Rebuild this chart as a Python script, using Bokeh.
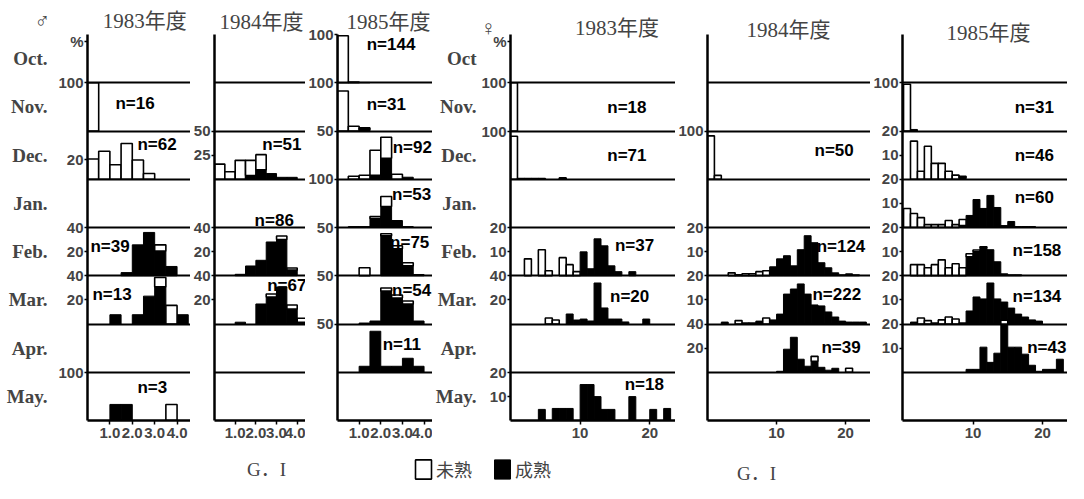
from bokeh.plotting import figure
from bokeh.models import (Range1d, LinearAxis, FixedTicker, Label, Legend, LegendItem,
                          ColumnDataSource)
from bokeh.layouts import row, column
from bokeh.embed import file_html
from bokeh.resources import INLINE
from bokeh.core.properties import value

# ---------------- data ----------------
MONTHS = ["Oct", "Nov", "Dec", "Jan", "Feb", "Mar", "Apr", "May"]
MONTH_LABELS_M = ["Oct.", "Nov.", "Dec.", "Jan.", "Feb.", "Mar.", "Apr.", "May."]
MONTH_LABELS_F = ["Oct", "Nov.", "Dec.", "Jan.", "Feb.", "Mar.", "Apr.", "May."]
YEARS = ["1983年度", "1984年度", "1985年度"]
SEX = ["♂", "♀"]
PCT = "%"
MALE_XTICKS = [1, 2, 3, 4]
FEMALE_XTICKS = [10, 20]
LEGEND_LABELS = ["未熟", "成熟"]
AXIS_TITLE = "G．I"

# male 1983 (GI bins of 0.5, % mature / % immature)
M83_MONTHS = ["Nov", "Dec", "Feb", "Mar", "May"]
M83_BINS = [[0.0], [0.0, 0.5, 1.0, 1.5, 2.0, 2.5], [1.5, 2.0, 2.5, 3.0, 3.5],
            [1.0, 2.0, 2.5, 3.0, 3.5, 4.0], [1.0, 1.5, 3.5]]
M83_MAT = [[0], [0, 0, 0, 0, 0, 0], [2.6, 25.6, 35.9, 20.5, 7.7],
           [7.7, 7.7, 23.1, 30.8, 0, 7.7], [33.3, 33.3, 0]]
M83_IMM = [[100], [21, 29, 15, 37, 20, 6], [0, 0, 0, 5.1, 0],
           [0, 0, 0, 7.7, 15.4, 0], [0, 0, 33.3]]
M83_FULL = {"Nov": 100, "Dec": 50, "Feb": 40, "Mar": 40, "May": 100}
M83_N = {"Nov": 16, "Dec": 62, "Feb": 39, "Mar": 13, "May": 3}
M83_YTICKS = [("Nov", 100), ("Dec", 20), ("Feb", 40), ("Feb", 20), ("Mar", 40), ("Mar", 20), ("May", 100)]

# male 1984
M84_MONTHS = ["Dec", "Feb", "Mar"]
M84_BINS = [[0.0, 0.5, 1.0, 1.5, 2.0, 2.5, 3.0, 3.5], [1.0, 1.5, 2.0, 2.5, 3.0, 3.5],
            [1.0, 2.0, 2.5, 3.0, 3.5, 4.0]]
M84_MAT = [[0, 0, 0, 3.9, 9.8, 5.9, 2.0, 2.0], [1.2, 8.1, 12.8, 28.0, 30.0, 4.7],
           [1.5, 16.6, 22.4, 30.7, 12.4, 1.5]]
M84_IMM = [[15.7, 7.8, 19.6, 15.7, 15.7, 0, 0, 0], [0, 0, 0, 0, 3.0, 1.7],
           [0, 0, 2.5, 0, 3.3, 3.3]]
M84_FULL = {"Dec": 50, "Feb": 40, "Mar": 40}
M84_N = {"Dec": 51, "Feb": 86, "Mar": 67}
M84_YTICKS = [("Dec", 50), ("Dec", 25), ("Feb", 40), ("Feb", 20), ("Mar", 40), ("Mar", 20)]

# male 1985
M85_MONTHS = ["Oct", "Nov", "Dec", "Jan", "Feb", "Mar", "Apr"]
M85_BINS = [[0.0, 0.5, 1.0], [0.0, 0.5, 1.0], [0.5, 1.0, 1.5, 2.0, 2.5, 3.0],
            [0.5, 1.0, 1.5, 2.0, 2.5, 3.0], [1.0, 2.0, 2.5, 3.0, 3.5],
            [1.0, 1.5, 2.0, 2.5, 3.0, 3.5], [1.0, 1.5, 2.0, 2.5, 3.0, 3.5]]
M85_MAT = [[0, 0, 0.7], [0, 0, 3.2], [0, 0, 4.1, 21.8, 0, 2.1],
           [1.9, 1.9, 18.7, 43.5, 14.5, 1.9], [0, 41.4, 28.0, 10.4, 1.3],
           [1.0, 3.1, 34.2, 26.9, 20.7, 3.1], [6.2, 42.5, 6.2, 6.2, 14.5, 6.2]]
M85_IMM = [[97.4, 1.4, 0], [83.0, 10.0, 3.2], [3.1, 4.1, 25.9, 21.8, 5.2, 0],
           [0, 0, 4.1, 20.7, 0, 0], [8.3, 2.1, 3.1, 3.1, 0],
           [0, 0, 3.1, 3.1, 3.1, 0], [0, 0, 0, 0, 0, 0]]
M85_FULL = {"Oct": 100, "Nov": 100, "Dec": 50, "Jan": 100, "Feb": 50, "Mar": 50, "Apr": 50}
M85_N = {"Oct": 144, "Nov": 31, "Dec": 92, "Jan": 53, "Feb": 75, "Mar": 54, "Apr": 11}
M85_YTICKS = [("Oct", 100), ("Nov", 100), ("Dec", 50), ("Jan", 100), ("Feb", 50), ("Mar", 50), ("Apr", 50)]

# female 1983 (GI bins of 1)
F83_MONTHS = ["Nov", "Dec", "Feb", "Mar", "May"]
F83_BINS = [[0], [0, 1, 2, 3, 4, 7],
            [2, 4, 5, 7, 8, 9, 10, 11, 12, 13, 14, 15, 17],
            [5, 6, 8, 9, 10, 11, 12, 13, 14, 15, 16, 19],
            [4, 6, 7, 8, 10, 11, 12, 13, 14, 17, 20, 22]]
F83_MAT = [[0], [0, 0, 0, 0, 0, 0],
           [0, 0, 0, 0, 0, 0, 9.9, 2.9, 15.3, 12.4, 4.1, 1.7, 1.7],
           [0, 0, 8.3, 3.3, 4.1, 2.5, 34.0, 13.3, 4.1, 4.1, 1.7, 4.1],
           [4.6, 5.0, 5.0, 5.0, 14.9, 14.9, 9.9, 4.6, 4.6, 9.9, 4.6, 5.0]]
F83_IMM = [[100], [89, 1.4, 1.4, 1.4, 1.4, 2.8],
           [7.0, 10.8, 2.1, 7.5, 4.6, 1.7, 0, 0, 0, 0, 0, 0, 0],
           [5.0, 3.3, 0, 0, 0, 0, 0, 0, 0, 0, 0, 0],
           [0, 0, 0, 0, 0, 0, 0, 0, 0, 0, 0, 0]]
F83_FULL = {"Nov": 100, "Dec": 100, "Feb": 20, "Mar": 40, "May": 20}
F83_N = {"Nov": 18, "Dec": 71, "Feb": 37, "Mar": 20, "May": 18}
F83_YTICKS = [("Nov", 100), ("Dec", 100), ("Feb", 20), ("Feb", 10), ("Mar", 40), ("Mar", 20),
              ("May", 20), ("May", 10)]

# female 1984
F84_MONTHS = ["Dec", "Feb", "Mar", "Apr"]
F84_BINS = [[0, 1],
            [3, 4, 5, 6, 7, 8, 9, 10, 11, 12, 13, 14, 15, 16, 17, 18, 19, 20, 21],
            [2, 4, 5, 6, 7, 8, 9, 10, 11, 12, 13, 14, 15, 16, 17, 18, 19, 20, 21, 22],
            [10, 11, 12, 13, 14, 15, 16, 17, 18, 20]]
F84_MAT = [[0, 0],
           [0, 0, 0, 0, 0, 0, 3.7, 7.0, 8.3, 4.1, 10.8, 16.6, 13.7, 5.4, 3.3, 1.2, 0.4, 0.8, 0.4],
           [0.8, 0, 0, 0, 1.2, 0, 1.7, 4.1, 12.4, 14.5, 16.6, 12.4, 7.9, 7.5, 5.0, 2.9, 1.2, 0.8, 0.8, 0.8],
           [0.8, 19.1, 29.0, 10.8, 5.0, 9.1, 4.1, 1.7, 3.3, 0]]
F84_IMM = [[90, 8],
           [1.2, 0.4, 0.8, 0.8, 1.7, 2.1, 0, 0, 0, 0, 0, 0, 0, 0, 0, 0, 0, 0, 0],
           [0, 1.4, 0.4, 0.4, 0, 2.5, 0, 0, 0, 0, 0, 0, 0, 0, 0, 0, 0, 0, 0, 0],
           [0, 0, 0, 0, 0, 4.1, 0, 0, 0, 3.3]]
F84_FULL = {"Dec": 100, "Feb": 20, "Mar": 20, "Apr": 40}
F84_N = {"Dec": 50, "Feb": 124, "Mar": 222, "Apr": 39}
F84_YTICKS = [("Dec", 100), ("Feb", 20), ("Feb", 10), ("Mar", 20), ("Mar", 10), ("Apr", 40), ("Apr", 20)]

# female 1985
F85_MONTHS = ["Nov", "Dec", "Jan", "Feb", "Mar", "Apr"]
F85_BINS = [[0, 1],
            [1, 2, 3, 4, 5, 6, 7, 8],
            [0, 1, 2, 3, 4, 5, 6, 7, 8, 9, 10, 11, 12, 13, 14, 15, 16, 17, 18],
            [1, 2, 3, 4, 5, 6, 7, 8, 9, 10, 11, 12, 13, 14, 15, 16],
            [1, 2, 3, 4, 5, 6, 7, 8, 9, 10, 11, 12, 13, 14, 15, 16, 17, 18, 19],
            [9, 10, 11, 12, 13, 14, 15, 16, 17, 18, 19, 20, 21, 22]]
F85_MAT = [[0, 3.2],
           [0, 0, 0, 0, 0, 0, 0, 0.6],
           [0, 0, 0, 0, 0, 0, 0, 0, 0.8, 5.0, 11.6, 7.9, 13.3, 8.3, 0.8, 2.5, 0.4, 0.4, 0.4],
           [0, 0, 0, 0, 0, 0, 0, 0, 7.9, 9.9, 11.6, 10.8, 5.8, 0.8, 0.4, 0.4],
           [0.8, 0, 0, 0, 0, 0, 0, 0, 5.4, 11.2, 10.4, 17.0, 10.4, 9.1, 6.6, 4.1, 2.9, 1.7, 1.2],
           [1.2, 1.2, 10.4, 4.1, 7.9, 19.9, 10.4, 10.4, 7.5, 2.9, 0.4, 1.2, 1.2, 5.4]]
F85_IMM = [[96.8, 0],
           [15.8, 3.3, 13.7, 6.6, 6.6, 3.3, 1.7, 0.6],
           [7.9, 5.8, 4.1, 1.2, 1.2, 1.2, 2.9, 1.2, 2.5, 0, 0, 0, 0, 0, 0, 0, 0, 0, 0],
           [4.6, 4.6, 3.3, 4.6, 6.6, 3.3, 5.0, 3.3, 1.2, 0.8, 0.4, 0, 0, 0, 0, 0],
           [0, 2.5, 1.4, 0.4, 1.7, 2.9, 2.1, 0.4, 0, 0, 0, 0, 0, 0, 0, 0, 0, 0, 0],
           [0, 0, 0, 0, 0, 1.7, 0, 0, 0, 0, 0, 0, 0, 0]]
F85_FULL = {"Nov": 100, "Dec": 20, "Jan": 20, "Feb": 20, "Mar": 20, "Apr": 20}
F85_N = {"Nov": 31, "Dec": 46, "Jan": 60, "Feb": 158, "Mar": 134, "Apr": 43}
F85_YTICKS = [("Nov", 100), ("Dec", 20), ("Dec", 10), ("Jan", 20), ("Jan", 10), ("Feb", 20), ("Feb", 10),
              ("Mar", 20), ("Mar", 10), ("Apr", 20), ("Apr", 10)]

# ---------------- layout / style ----------------
NARROW = "Liberation Sans Narrow, Liberation Sans, sans-serif"
SERIF = "Liberation Serif, DejaVu Sans, Noto Sans CJK JP, serif"
FIG_H = 446
TOP = 34
BOTTOM = 26
NBSP = "\u00a0"

PANELS = [
    dict(data=(M83_MONTHS, M83_BINS, M83_MAT, M83_IMM, M83_FULL, M83_YTICKS, M83_N),
         w=190, L=87, x0=0.0, x1=4.6, bw=0.5, male=True,
         title=SEX[0] + NBSP * 10 + YEARS[0], toff=-53, tstand=3, pct=7.85,
         npos={"Nov": (1.25, 6.58), "Dec": (2.23, 5.73), "Feb": (0.13, 3.6), "Mar": (0.22, 2.62), "May": (2.23, 0.68)}),
    dict(data=(M84_MONTHS, M84_BINS, M84_MAT, M84_IMM, M84_FULL, M84_YTICKS, M84_N),
         w=115, L=20, x0=0.0, x1=4.4, bw=0.5, male=True,
         title=YEARS[1], toff=5, tstand=1, pct=None,
         npos={"Dec": (2.31, 5.73), "Feb": (1.94, 4.14), "Mar": (2.55, 2.79)}),
    dict(data=(M85_MONTHS, M85_BINS, M85_MAT, M85_IMM, M85_FULL, M85_YTICKS, M85_N),
         w=127, L=26, x0=0.0, x1=4.39, bw=0.5, male=True,
         title=YEARS[2], toff=9, tstand=1, pct=None,
         npos={"Oct": (1.35, 7.79), "Nov": (1.35, 6.54), "Dec": (2.55, 5.66), "Jan": (2.52, 4.68),
               "Feb": (2.43, 3.68), "Mar": (2.52, 2.7), "Apr": (2.09, 1.58)}),
    dict(data=(F83_MONTHS, F83_BINS, F83_MAT, F83_IMM, F83_FULL, F83_YTICKS, F83_N),
         w=243, L=77, x0=0.0, x1=23.7, bw=1.0, male=False,
         title=SEX[1] + NBSP * 15 + YEARS[0], toff=-30, tstand=-10, pct=7.85,
         npos={"Nov": (13.9, 6.48), "Dec": (13.9, 5.5), "Feb": (15.0, 3.62), "Mar": (14.3, 2.56), "May": (16.4, 0.75)}),
    dict(data=(F84_MONTHS, F84_BINS, F84_MAT, F84_IMM, F84_FULL, F84_YTICKS, F84_N),
         w=195, L=26, x0=0.0, x1=23.6, bw=1.0, male=False,
         title=YEARS[1], toff=39, tstand=-14, pct=None,
         npos={"Dec": (15.5, 5.6), "Feb": (15.8, 3.6), "Mar": (15.2, 2.62), "Apr": (16.5, 1.52)}),
    dict(data=(F85_MONTHS, F85_BINS, F85_MAT, F85_IMM, F85_FULL, F85_YTICKS, F85_N),
         w=197, L=26, x0=-0.15, x1=23.6, bw=1.0, male=False,
         title=YEARS[2], toff=44, tstand=-20, pct=None,
         npos={"Nov": (16.0, 6.48), "Dec": (16.0, 5.5), "Jan": (16.0, 4.62), "Feb": (15.7, 3.52),
               "Mar": (15.7, 2.56), "Apr": (17.8, 1.52)}),
]


def make_panel(cfg):
    months, bins, mat, imm, full, yticks, ns = cfg["data"]
    p = figure(width=cfg["w"], height=FIG_H,
               x_range=Range1d(cfg["x0"], cfg["x1"]), y_range=Range1d(0, 8),
               output_backend="svg", toolbar_location=None,
               min_border=0, min_border_left=cfg["L"], min_border_right=0,
               min_border_top=TOP, min_border_bottom=BOTTOM, title=cfg["title"])
    p.outline_line_color = None
    p.grid.visible = False
    p.background_fill_color = "white"
    p.border_fill_color = "white"
    p.title.align = "left"
    p.title.offset = cfg["toff"]
    p.title.standoff = cfg["tstand"]
    p.title.text_font = SERIF
    p.title.text_font_style = "normal"
    p.title.text_font_size = "21px"

    bw = cfg["bw"]
    mq = dict(left=[], right=[], bottom=[], top=[])
    iq = dict(left=[], right=[], bottom=[], top=[])
    for m, bl, ml, il in zip(months, bins, mat, imm):
        base = 7 - MONTHS.index(m)
        f = full[m]
        for b, mv, iv in zip(bl, ml, il):
            if mv > 0:
                mq["left"].append(b); mq["right"].append(b + bw)
                mq["bottom"].append(base); mq["top"].append(base + mv / f)
            if iv > 0:
                iq["left"].append(b); iq["right"].append(b + bw)
                iq["bottom"].append(base + mv / f); iq["top"].append(base + (mv + iv) / f)
    p.quad(source=ColumnDataSource(mq), left="left", right="right", bottom="bottom", top="top",
           fill_color="black", line_color="black", line_width=1)
    p.quad(source=ColumnDataSource(iq), left="left", right="right", bottom="bottom", top="top",
           fill_color="white", line_color="black", line_width=1.6)

    # row baselines
    p.hspan(y=[1, 2, 3, 4, 5, 6, 7], line_color="black", line_width=2)

    # n labels
    nx, ny, nt = [], [], []
    for m in months:
        x, y = cfg["npos"][m]
        nx.append(x); ny.append(y); nt.append(f"n={ns[m]}")
    p.text(x=nx, y=ny, text=nt, text_font=value("Liberation Sans"), text_font_style="bold",
           text_font_size="17px", text_baseline="middle", text_align="left", text_color="black")

    # y axis: per-row scale labels
    ya = p.yaxis[0]
    ticks = [7 - MONTHS.index(m) + v / full[m] for m, v in yticks]
    labels = [str(v) for m, v in yticks]
    if cfg["pct"] is not None:
        ticks.append(cfg["pct"])
        labels.append(PCT)
    ya.ticker = FixedTicker(ticks=ticks)
    ya.major_label_overrides = {t: lab for t, lab in zip(ticks, labels)}
    ya.axis_line_width = 2.5
    ya.major_tick_in = 0
    ya.major_tick_out = 3
    ya.major_tick_line_width = 1.5
    ya.minor_tick_line_color = None
    ya.major_label_standoff = 1
    ya.major_label_text_font = NARROW
    ya.major_label_text_font_style = "bold"
    ya.major_label_text_font_size = "15px"

    # x axis
    xa = p.xaxis[0]
    xt = MALE_XTICKS if cfg["male"] else FEMALE_XTICKS
    xa.ticker = FixedTicker(ticks=xt)
    xa.major_label_overrides = {t: (f"{t:.1f}" if cfg["male"] else str(t)) for t in xt}
    xa.axis_line_width = 2.5
    xa.major_tick_in = 0
    xa.major_tick_out = 4
    xa.major_tick_line_width = 1.5
    xa.minor_tick_line_color = None
    xa.major_label_standoff = 3
    xa.major_label_text_font = NARROW
    xa.major_label_text_font_style = "bold"
    xa.major_label_text_font_size = "15px"
    return p


def add_month_axis(p, labels, standoff):
    ax = LinearAxis(ticker=FixedTicker(ticks=[7.5 - i for i in range(8)]))
    ax.major_label_overrides = {7.5 - i: lab for i, lab in enumerate(labels)}
    ax.axis_line_color = None
    ax.major_tick_line_color = None
    ax.minor_tick_line_color = None
    ax.major_tick_out = 0
    ax.major_tick_in = 0
    ax.major_label_standoff = standoff
    ax.major_label_text_font = SERIF
    ax.major_label_text_font_style = "bold"
    ax.major_label_text_font_size = "19px"
    p.add_layout(ax, "left")


figs = [make_panel(c) for c in PANELS]
add_month_axis(figs[0], MONTH_LABELS_M, 8)
add_month_axis(figs[3], MONTH_LABELS_F, 2)

# bottom strip: legend + axis titles
STRIP_H = 483 - FIG_H
strip = figure(width=1067, height=STRIP_H, x_range=Range1d(0, 1067), y_range=Range1d(0, STRIP_H),
               output_backend="svg", toolbar_location=None, min_border=0,
               x_axis_location=None, y_axis_location=None)
strip.grid.visible = False
strip.outline_line_color = None
r_imm = strip.quad(left=[-100], right=[-90], top=[-90], bottom=[-100],
                   fill_color="white", line_color="black", line_width=1.6)
r_mat = strip.quad(left=[-100], right=[-90], top=[-90], bottom=[-100],
                   fill_color="black", line_color="black", line_width=1)
leg = Legend(items=[LegendItem(label=LEGEND_LABELS[0], renderers=[r_imm]),
                    LegendItem(label=LEGEND_LABELS[1], renderers=[r_mat])],
             orientation="horizontal", location=(413, 1),
             border_line_color=None, background_fill_alpha=0, padding=0, margin=0,
             spacing=20, glyph_width=20, glyph_height=24, label_height=24,
             label_standoff=3, label_text_font="Noto Sans CJK JP", label_text_font_size="18px")
strip.add_layout(leg)
strip.add_layout(Label(x=266, y=14, x_units="screen", y_units="screen", text=AXIS_TITLE,
                       text_font=SERIF, text_font_size="19px", text_align="center", text_baseline="middle"))
strip.add_layout(Label(x=756, y=10, x_units="screen", y_units="screen", text=AXIS_TITLE,
                       text_font=SERIF, text_font_size="19px", text_align="center", text_baseline="middle"))

layout = column(row(*figs), strip)
open("out.html", "w").write(file_html(layout, INLINE))
